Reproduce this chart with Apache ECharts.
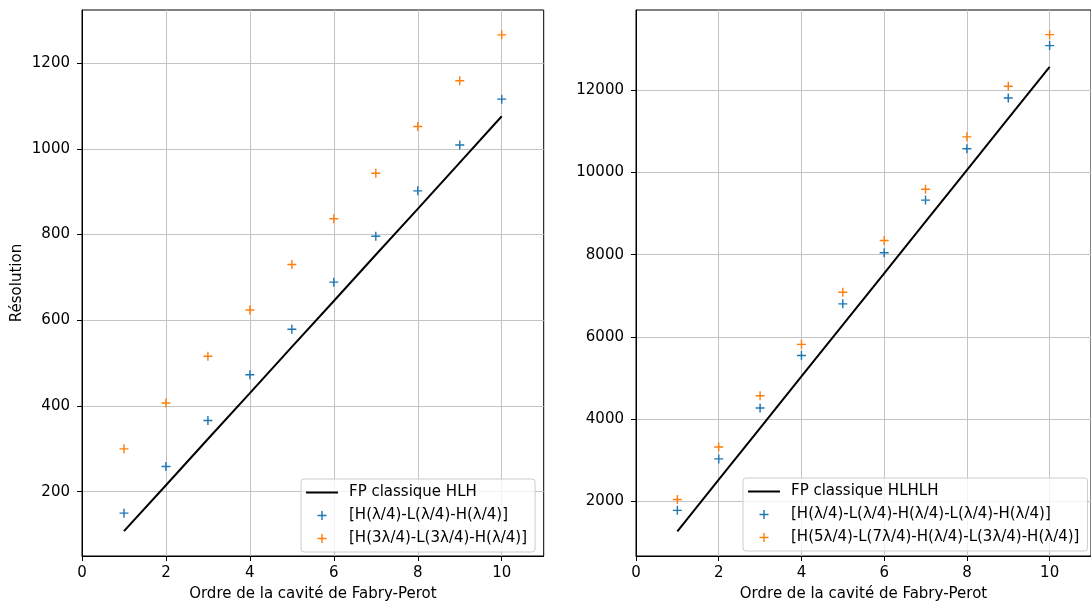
<!DOCTYPE html>
<html><head><meta charset="utf-8">
<script src="https://cdn.jsdelivr.net/npm/echarts@6/dist/echarts.min.js"></script>
<style>html,body{margin:0;padding:0;background:#fff}#c{width:1091px;height:607px}</style>
</head><body><div id="c"></div>
<script>
// ---- data ----
const orders = [1, 2, 3, 4, 5, 6, 7, 8, 9, 10];
const xTicks = [0, 2, 4, 6, 8, 10];

const leftLineName = 'FP classique HLH';
const leftBlueName = '[H(λ/4)-L(λ/4)-H(λ/4)]';
const leftOrangeName = '[H(3λ/4)-L(3λ/4)-H(λ/4)]';
const leftLine = [108, 215, 323, 430, 538, 645, 753, 860, 968, 1076];
const leftBlue = [150, 259, 366, 473, 579, 689, 796, 902, 1009, 1116];
const leftOrange = [300, 407, 516, 624, 730, 837, 943, 1052, 1159, 1266];
const leftYTicks = [200, 400, 600, 800, 1000, 1200];

const rightLineName = 'FP classique HLHLH';
const rightBlueName = '[H(λ/4)-L(λ/4)-H(λ/4)-L(λ/4)-H(λ/4)]';
const rightOrangeName = '[H(5λ/4)-L(7λ/4)-H(λ/4)-L(3λ/4)-H(λ/4)]';
const rightLine = [1272, 2527, 3782, 5037, 6292, 7547, 8802, 10058, 11313, 12565];
const rightBlue = [1780, 3032, 4270, 5546, 6803, 8047, 9327, 10574, 11810, 13085];
const rightOrange = [2043, 3323, 4570, 5818, 7085, 8345, 9589, 10865, 12095, 13352];
const rightYTicks = [2000, 4000, 6000, 8000, 10000, 12000];

const xLabel = 'Ordre de la cavité de Fabry-Perot';
const yLabel = 'Résolution';

// ---- styling / building ----
const FONT = 'DejaVu Sans';
const FS = 15;
const BLUE = '#1f77b4', ORANGE = '#ff7f0e';
const cross = 'path://M0,4.2H10V5.8H0Z M4.2,0H5.8V4.2H4.2Z M4.2,5.8H5.8V10H4.2Z';
const pairs = ys => orders.map((x, i) => [x, ys[i]]);
const plain = v => String(v);

function xAxis(gi) {
  return {
    type: 'value', gridIndex: gi, min: 0, max: 11,
    name: xLabel, nameLocation: 'middle', nameGap: 31,
    nameTextStyle: {fontFamily: FONT, fontSize: FS, color: '#000'},
    axisLine: {show: true, lineStyle: {color: '#000', width: 1}},
    axisTick: {show: true, inside: false, length: 5, lineStyle: {color: '#000'}, customValues: xTicks},
    axisLabel: {fontFamily: FONT, fontSize: FS, color: '#000', margin: 10, customValues: xTicks, formatter: plain},
    splitLine: {show: true, lineStyle: {color: '#c4c4c4', width: 1}}
  };
}
function yAxis(gi, min, max, ticks, name) {
  return {
    type: 'value', gridIndex: gi, min: min, max: max,
    name: name, nameLocation: 'middle', nameGap: 57,
    nameTextStyle: {fontFamily: FONT, fontSize: FS, color: '#000'},
    axisLine: {show: true, lineStyle: {color: '#000', width: 1}},
    axisTick: {show: true, inside: false, length: 5, lineStyle: {color: '#000'}, customValues: ticks},
    axisLabel: {fontFamily: FONT, fontSize: FS, color: '#000', margin: 12, customValues: ticks, formatter: plain},
    splitLine: {show: true, lineStyle: {color: '#c4c4c4', width: 1}}
  };
}
function legend(left, top, names) {
  return {
    orient: 'vertical', left: left, top: top, align: 'left',
    itemWidth: 32, itemHeight: 9, itemGap: 8,
    padding: [6, 8, 6, 4],
    backgroundColor: 'rgba(255,255,255,0.8)', borderColor: '#cccccc', borderWidth: 1, borderRadius: 3,
    textStyle: {fontFamily: FONT, fontSize: FS, color: '#000', padding: [0, 0, 0, 6]},
    data: [
      {name: names[0], itemStyle: {opacity: 0}},
      {name: names[1], icon: cross},
      {name: names[2], icon: cross}
    ]
  };
}
function lineSeries(name, gi, ys) {
  return {type: 'line', name: name, xAxisIndex: gi, yAxisIndex: gi, data: pairs(ys),
    symbol: 'none', lineStyle: {color: '#000', width: 2}, itemStyle: {color: '#000'}, animation: false, z: 3};
}
function scatterSeries(name, gi, ys, color) {
  return {type: 'scatter', name: name, xAxisIndex: gi, yAxisIndex: gi, data: pairs(ys),
    symbol: cross, symbolSize: 9, itemStyle: {color: color, opacity: 1}, animation: false, z: 4};
}

const chart = echarts.init(document.getElementById('c'), null, {renderer: 'canvas'});
chart.setOption({
  animation: false,
  backgroundColor: '#fff',
  textStyle: {fontFamily: FONT},
  grid: [
    {left: 82, top: 10, width: 461.7, height: 549.3, show: true, borderColor: '#000', borderWidth: 1, containLabel: false},
    {left: 636, top: 10, width: 461.7, height: 549.3, show: true, borderColor: '#000', borderWidth: 1, containLabel: false}
  ],
  xAxis: [xAxis(0), xAxis(1)],
  yAxis: [yAxis(0, 50, 1324, leftYTicks, yLabel), yAxis(1, 670, 13951, rightYTicks, '')],
  legend: [
    legend(301, 479, [leftLineName, leftBlueName, leftOrangeName]),
    legend(743, 478, [rightLineName, rightBlueName, rightOrangeName])
  ],
  series: [
    lineSeries(leftLineName, 0, leftLine),
    scatterSeries(leftBlueName, 0, leftBlue, BLUE),
    scatterSeries(leftOrangeName, 0, leftOrange, ORANGE),
    lineSeries(rightLineName, 1, rightLine),
    scatterSeries(rightBlueName, 1, rightBlue, BLUE),
    scatterSeries(rightOrangeName, 1, rightOrange, ORANGE)
  ]
});
</script></body></html>
